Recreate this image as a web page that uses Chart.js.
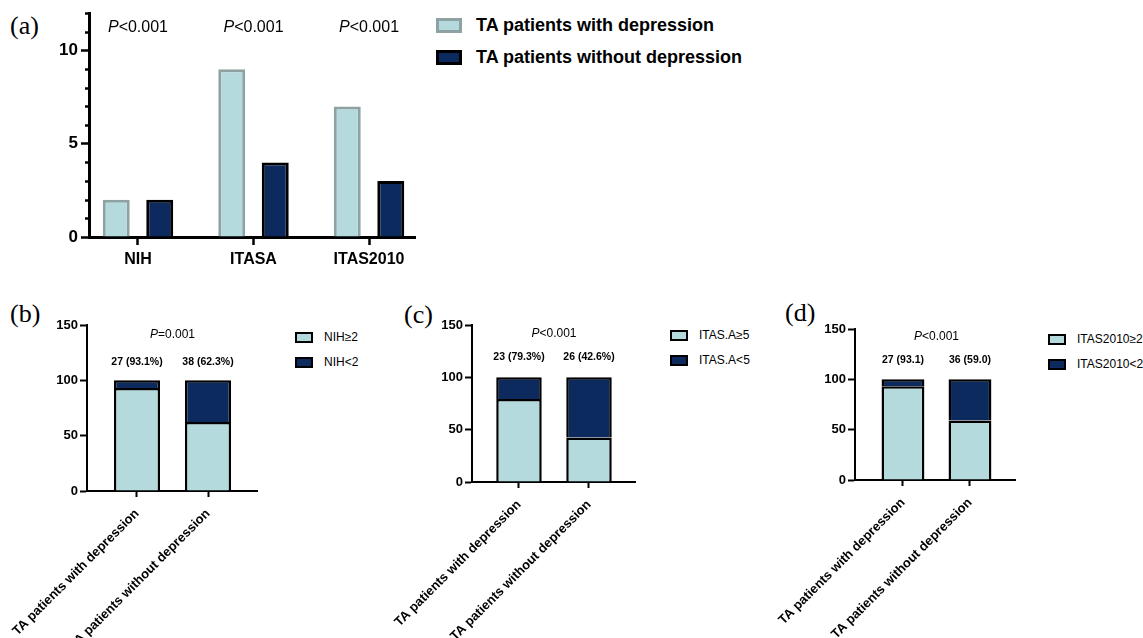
<!DOCTYPE html>
<html>
<head>
<meta charset="utf-8">
<script src="https://cdn.jsdelivr.net/npm/chart.js@4/dist/chart.umd.min.js"></script>
<style>
  body { margin: 0; width: 1143px; height: 638px; background: #fff; position: relative; overflow: hidden;
         font-family: "Liberation Sans", Arial, sans-serif; color: #000; }
  canvas { position: absolute; }
  .tag { position: absolute; font-family: "Liberation Serif", "Times New Roman", serif; font-size: 26px; line-height: 26px; }
  .lg { position: absolute; white-space: nowrap; }
  .sw { position: absolute; box-sizing: border-box; }
</style>
</head>
<body>
<div class="tag" style="left:10px;top:13px">(a)</div>
<div class="tag" style="left:10px;top:301px">(b)</div>
<div class="tag" style="left:404px;top:302px">(c)</div>
<div class="tag" style="left:785px;top:300px">(d)</div>

<canvas id="chartA" width="430" height="275" style="left:0;top:0"></canvas>
<canvas id="chartB" width="272" height="338" style="left:0;top:300px"></canvas>
<canvas id="chartC" width="260" height="338" style="left:390px;top:300px"></canvas>
<canvas id="chartD" width="260" height="338" style="left:770px;top:300px"></canvas>

<script>
// panel (a)
const categoriesA = ['NIH', 'ITASA', 'ITAS2010'];
const withDepressionA = [2, 9, 7];
const withoutDepressionA = [2, 4, 3];
const pValuesA = ['<0.001', '<0.001', '<0.001'];
const yLabelsA = [0, 5, 10];

// panels (b)-(d)
const groups = ['TA patients with depression', 'TA patients without depression'];
const nihHigh = [93.1, 62.3];
const nihLow = [6.9, 37.7];
const nihCounts = ['27 (93.1%)', '38 (62.3%)'];
const nihLegend = ['NIH≥2', 'NIH<2'];
const itasaHigh = [79.3, 42.6];
const itasaLow = [20.7, 57.4];
const itasaCounts = ['23 (79.3%)', '26 (42.6%)'];
const itasaLegend = ['ITAS.A≥5', 'ITAS.A<5'];
const itas2010High = [93.1, 59.0];
const itas2010Low = [6.9, 41.0];
const itas2010Counts = ['27 (93.1)', '36 (59.0)'];
const itas2010Legend = ['ITAS2010≥2', 'ITAS2010<2'];
const stackLabels = [0, 50, 100, 150];

const LIGHT = '#b4dadd', DARK = '#0c2a5e', GREY = '#8ea2a3';
const FONT = '"Liberation Sans", Arial, sans-serif';

function points(values) {
    return values.map((v, i) => ({ x: i, y: v }));
}

// texts placed with the chart's own scales (P values, counts)
const panelText = {
    id: 'panelText',
    afterDatasetsDraw(chart, args, opts) {
        const { ctx } = chart;
        const x = chart.scales.x, y = chart.scales.y;
        ctx.save();
        ctx.fillStyle = '#000';
        ctx.textBaseline = 'middle';
        ctx.textAlign = 'left';
        (opts.items || []).forEach(item => {
            const fonts = item.parts.map(p => `${p.italic ? 'italic ' : ''}${item.weight || 'normal'} ${item.size}px ${FONT}`);
            let total = 0;
            const widths = item.parts.map((p, k) => {
                ctx.font = fonts[k];
                const w = ctx.measureText(p.text).width;
                total += w;
                return w;
            });
            let cx = x.getPixelForValue(item.x) - total / 2;
            const cy = y.getPixelForValue(item.y);
            item.parts.forEach((p, k) => {
                ctx.font = fonts[k];
                ctx.fillText(p.text, cx, cy);
                cx += widths[k];
            });
        });
        ctx.restore();
    }
};

// short minor ticks on the y axis of panel (a)
const minorTicks = {
    id: 'minorTicks',
    afterDraw(chart, args, opts) {
        if (!opts.step) return;
        const y = chart.scales.y, ctx = chart.ctx;
        ctx.save();
        ctx.strokeStyle = '#000';
        ctx.lineWidth = opts.width;
        for (let v = y.min; v <= y.max; v += opts.step) {
            if (v % opts.major === 0) continue;
            const py = Math.round(y.getPixelForValue(v)) + 0.5;
            ctx.beginPath();
            ctx.moveTo(y.right - opts.length, py);
            ctx.lineTo(y.right, py);
            ctx.stroke();
        }
        ctx.restore();
    }
};

function legend(left, top, labels, cfg) {
    labels.forEach((text, i) => {
        const sw = document.createElement('div');
        sw.className = 'sw';
        sw.style.cssText = `left:${left}px;top:${top + i * cfg.gap}px;width:${cfg.w}px;height:${cfg.h}px;` +
            `background:${i === 0 ? LIGHT : DARK};border:${cfg.bw}px solid ${i === 0 ? cfg.lightBorder : '#000'}`;
        document.body.appendChild(sw);
        const lb = document.createElement('div');
        lb.className = 'lg';
        lb.textContent = text;
        lb.style.cssText = `left:${left + cfg.textDx}px;top:${top + i * cfg.gap + cfg.h / 2 - cfg.size * 0.6}px;` +
            `font-size:${cfg.size}px;line-height:${cfg.size * 1.2}px;font-weight:${cfg.weight}`;
        document.body.appendChild(lb);
    });
}

function noPad(s) {
    s.paddingLeft = 0;
    s.paddingRight = 0;
}

// (a) grouped bars
new Chart(document.getElementById('chartA'), {
    type: 'bar',
    data: {
        datasets: [
            { label: groups[0], data: points(withDepressionA), backgroundColor: LIGHT, borderColor: GREY, borderWidth: 3,
              categoryPercentage: 0.753, barPercentage: 0.62 },
            { label: groups[1], data: points(withoutDepressionA), backgroundColor: DARK, borderColor: '#000', borderWidth: 3,
              categoryPercentage: 0.753, barPercentage: 0.62 }
        ]
    },
    options: {
        responsive: false,
        animation: false,
        layout: { padding: { top: 12, right: 15, left: 0, bottom: 0 } },
        plugins: {
            legend: { display: false },
            tooltip: { enabled: false },
            panelText: {
                items: categoriesA.map((c, i) => ({ x: i, y: 11.25, size: 16, parts: [{ text: 'P', italic: true }, { text: pValuesA[i] }] }))
            },
            minorTicks: { step: 1, major: 5, length: 4, width: 2.5 }
        },
        scales: {
            x: {
                type: 'linear', min: -0.424, max: 2.398, offset: false,
                afterFit: s => { s.height = 38; noPad(s); },
                grid: { display: true, drawOnChartArea: false, offset: false, tickLength: 8, tickColor: '#000', tickWidth: 2.5 },
                border: { color: '#000', width: 3 },
                ticks: { stepSize: 1, includeBounds: false, autoSkip: false, maxRotation: 0, color: '#000', padding: 5,
                         font: { family: FONT, size: 16, weight: 'bold' }, callback: v => categoriesA[v] ?? '' }
            },
            y: {
                min: 0, max: 12,
                afterFit: s => { s.width = 89; },
                grid: { display: true, drawOnChartArea: false, tickLength: 8, tickWidth: 2.5,
                        tickColor: c => (c.tick && c.tick.value % 5 === 0) ? '#000' : 'rgba(0,0,0,0)' },
                border: { color: '#000', width: 3 },
                ticks: { stepSize: 1, autoSkip: false, color: '#000', padding: 3,
                         font: { family: FONT, size: 17, weight: 'bold' }, callback: v => yLabelsA.includes(v) ? v : '' }
            }
        }
    },
    plugins: [panelText, minorTicks]
});

legend(436, 18, groups, { gap: 32, w: 26, h: 15, bw: 3, lightBorder: GREY, textDx: 40, size: 18, weight: 'bold' });

// (b)-(d) stacked percentage bars
function stackedPanel(id, high, low, counts, pText, c) {
    new Chart(document.getElementById(id), {
        type: 'bar',
        data: {
            datasets: [
                { data: points(high), backgroundColor: LIGHT, borderColor: '#000', borderWidth: 2.5,
                  categoryPercentage: 1, barPercentage: c.barPct },
                { data: points(low), backgroundColor: DARK, borderColor: '#000', borderWidth: 2.5,
                  categoryPercentage: 1, barPercentage: c.barPct }
            ]
        },
        options: {
            responsive: false,
            animation: false,
            layout: { padding: { top: c.top, right: c.right, left: 0, bottom: 0 } },
            plugins: {
                legend: { display: false },
                tooltip: { enabled: false },
                panelText: {
                    items: [
                        { x: 0.5, y: c.pY, size: 12, parts: [{ text: 'P', italic: true }, { text: pText }] },
                        ...counts.map((t, i) => ({ x: i, y: c.countY, size: 10.5, weight: 'bold', parts: [{ text: t }] }))
                    ]
                }
            },
            scales: {
                x: {
                    type: 'linear', stacked: true, min: c.min, max: c.max, offset: false,
                    afterFit: s => { s.height = c.xHeight; noPad(s); },
                    grid: { display: true, drawOnChartArea: false, offset: false, tickLength: 6, tickColor: '#000', tickWidth: 2 },
                    border: { color: '#000', width: 2 },
                    ticks: { stepSize: 1, includeBounds: false, autoSkip: false, minRotation: 45, maxRotation: 45, color: '#000', padding: 9,
                             font: { family: FONT, size: 13, weight: 'bold' }, callback: v => groups[v] ?? '' }
                },
                y: {
                    stacked: true, min: 0, max: 150,
                    afterFit: s => { s.width = c.axisWidth; },
                    grid: { display: true, drawOnChartArea: false, tickLength: 7, tickWidth: 2, tickColor: '#000' },
                    border: { color: '#000', width: 2 },
                    ticks: { stepSize: 50, color: '#000', padding: 2,
                             font: { family: FONT, size: 13, weight: 'bold' }, callback: v => stackLabels.includes(v) ? v : '' }
                }
            }
        },
        plugins: [panelText]
    });
}

stackedPanel('chartB', nihHigh, nihLow, nihCounts, '=0.001',
    { axisWidth: 87, top: 25, right: 15, xHeight: 147, min: -0.704, max: 1.69, pY: 141, countY: 116.6, barPct: 0.65 });
stackedPanel('chartC', itasaHigh, itasaLow, itasaCounts, '<0.001',
    { axisWidth: 82, top: 25, right: 15, xHeight: 156, min: -0.671, max: 1.657, pY: 141.4, countY: 119.4, barPct: 0.65 });
stackedPanel('chartD', itas2010High, itas2010Low, itas2010Counts, '<0.001',
    { axisWidth: 85, top: 29, right: 15, xHeight: 158, min: -0.716, max: 1.672, pY: 142, countY: 119, barPct: 0.64 });

const smallLegend = { gap: 25, w: 18, h: 11, bw: 2, lightBorder: '#000', textDx: 29, size: 12, weight: 'normal' };
legend(295, 332, nihLegend, smallLegend);
legend(670, 330, itasaLegend, smallLegend);
legend(1048, 334, itas2010Legend, smallLegend);
</script>
</body>
</html>
